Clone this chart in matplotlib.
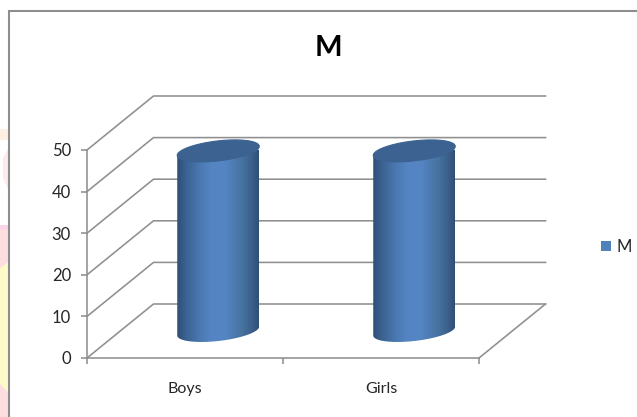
import numpy as np
import matplotlib
matplotlib.use("Agg")
import matplotlib.pyplot as plt
from matplotlib.colors import LinearSegmentedColormap
from matplotlib.patches import Polygon, Patch

categories = ["Boys", "Girls"]
series_name = "M"
values = [43.3, 43.3]
y_ticks = [0, 10, 20, 30, 40, 50]

W, H = 637, 417
LINE = "#8f8f8f"
plt.rcParams["font.family"] = ["Lato", "DejaVu Sans"]
fig = plt.figure(figsize=(W / 100, H / 100), dpi=100, facecolor="white")

# page remnants and chart frame
bg = fig.add_axes([0, 0, 1, 1], zorder=0)
bg.set_xlim(0, W); bg.set_ylim(H, 0); bg.axis("off")
bg.add_patch(Polygon([(0, 129), (8.5, 129), (8.5, 140), (0, 140)], fc="#fdf0e2", ec="none"))
bg.add_patch(Polygon([(3, 158), (8.5, 148), (8.5, 190), (3, 178)], fc="#fdeaea", ec="none"))
bg.add_patch(Polygon([(0, 225), (8.5, 225), (8.5, 417), (0, 417)], fc="#fddde0", ec="none"))
bg.add_patch(Polygon([(0, 225), (8.5, 225), (8.5, 229), (0, 229)], fc="#fbd3e8", ec="none"))
bg.add_patch(Polygon([(0, 268), (8.5, 262), (8.5, 393), (0, 384)], fc="#fefbc9", ec="none"))
bg.plot([9, 9, W], [H, 11, 11], color="#8e8e8e", lw=1.5, solid_joinstyle="miter")

# chart area: front plane of the 3D box
L, R, T, B = 87, 479, 150, 358
ax = fig.add_axes([L / W, 1 - B / H, (R - L) / W, (B - T) / H], zorder=1)
ax.patch.set_alpha(0)
ax.set_xlim(0, 2); ax.set_ylim(0, 50)
px_x, px_y = 2 / (R - L), 50 / (B - T)
dx, dy = 66.5 * px_x, 54 * px_y   # depth of the box

for v in y_ticks:
    ax.plot([0, dx, 2 + dx], [v, v + dy, v + dy], color=LINE, lw=1.15, clip_on=False, zorder=1)
ax.plot([2, 2 + dx], [0, dy], color=LINE, lw=1.15, clip_on=False, zorder=1)

# cylinders
cmap = LinearSegmentedColormap.from_list("cyl", [
    (0.00, "#2f4e78"), (0.12, "#3c6494"), (0.28, "#4a78b0"), (0.42, "#5585c4"),
    (0.60, "#5484c2"), (0.80, "#46729f"), (0.93, "#395d88"), (1.00, "#304e76")])
grad = np.linspace(0, 1, 256)[None, :]
t = np.linspace(0, 2 * np.pi, 181)
rx, tilt, ry = 41, 4.5, 10.0

for i, v in enumerate(values):
    cx = i + 0.5 + dx / 2
    base = dy / 2
    ex = rx * np.cos(t) * px_x
    ey = (tilt * np.cos(t) - ry * np.sin(t)) * px_y
    lo_pts = np.column_stack([cx + ex[:91], base + ey[:91]])
    body_pts = np.vstack([lo_pts, [[cx - rx * px_x, base + v - tilt * px_y]], [[cx + rx * px_x, base + v + tilt * px_y]]])
    clip = Polygon(body_pts, closed=True, transform=ax.transData, fc="none", ec="none")
    ax.add_patch(clip)
    im = ax.imshow(grad, cmap=cmap, aspect="auto", zorder=3, interpolation="bilinear",
                   extent=[cx - rx * px_x, cx + rx * px_x, base - 12 * px_y, base + v + 12 * px_y])
    im.set_clip_path(clip)
    ax.add_patch(Polygon(np.column_stack([cx + ex, base + v + ey]), closed=True,
                         fc="#3c6291", ec="#3c6291", lw=0.8, zorder=4, clip_on=False))

ax.set_xlim(0, 2); ax.set_ylim(0, 50)

# axes, ticks, labels
for s in ("top", "right"):
    ax.spines[s].set_visible(False)
for s in ("left", "bottom"):
    ax.spines[s].set_color(LINE); ax.spines[s].set_linewidth(1.15)
ax.set_yticks(y_ticks)
ax.tick_params(axis="y", length=4.5, width=1.15, color=LINE, labelsize=12, labelcolor="#262626", pad=7)
ax.set_xticks([0, 1, 2]); ax.set_xticklabels([])
ax.tick_params(axis="x", which="major", length=4.5, width=1.15, color=LINE)
ax.set_xticks([0.5, 1.5], minor=True)
ax.set_xticklabels(categories, minor=True, fontsize=11.5, color="#262626")
ax.tick_params(axis="x", which="minor", length=0, pad=17)

fig.text(328 / W, 1 - 48 / H, series_name, ha="center", va="center", fontsize=21,
         fontweight="bold", color="black")

fig.legend(handles=[Patch(fc="#4f81bd", ec="none", label=series_name)], loc="center left",
           bbox_to_anchor=(601 / W, 1 - 247 / H), frameon=False, fontsize=12,
           handlelength=0.6, handleheight=0.6, handletextpad=0.35, borderpad=0, borderaxespad=0,
           labelcolor="#262626")

fig.savefig("out.png", dpi=100)
